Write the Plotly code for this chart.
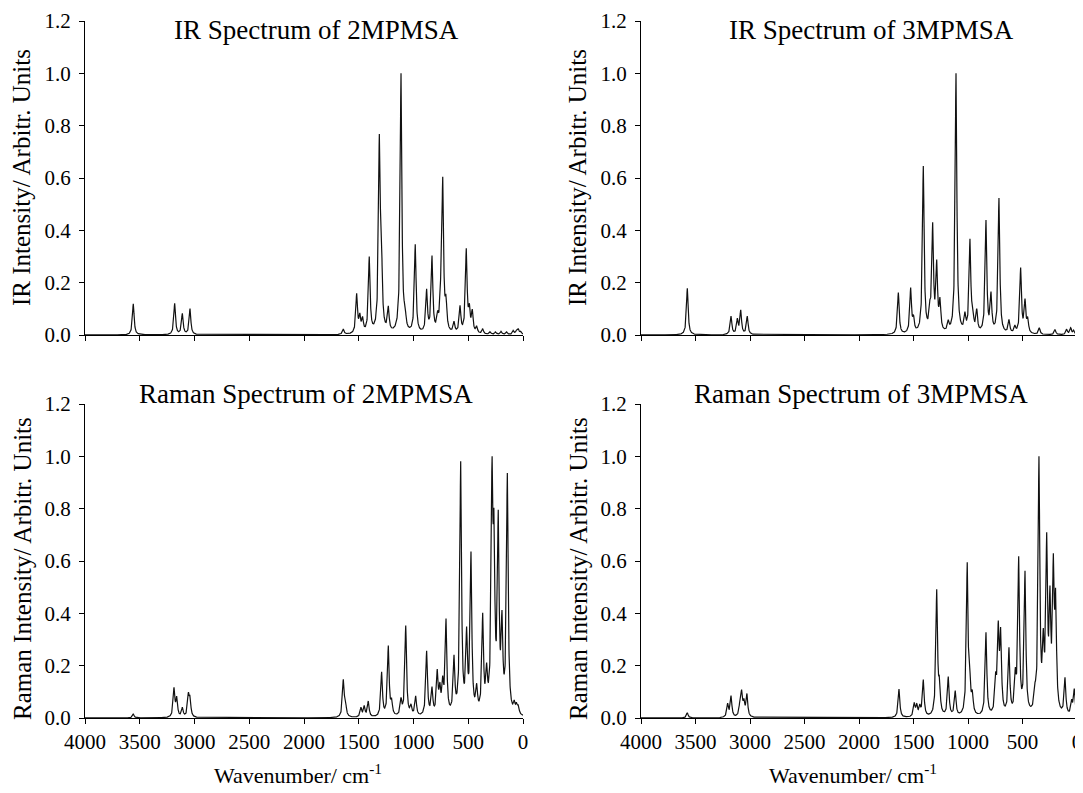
import numpy as np
import plotly.graph_objects as go

# ---------------- data: computed band positions (cm-1) and relative intensities ----------------
ir2_pos = [3559, 3181, 3111, 3041, 1641, 1519, 1490, 1465, 1404, 1312, 1294, 1230, 1114, 1078,
           984, 880, 831, 779, 750, 733, 703, 630, 575, 518, 490, 463, 423, 368, 300, 250, 200,
           150, 89, 60, 43, 20]
ir2_int = [0.12, 0.12, 0.08, 0.10, 0.02, 0.15, 0.06, 0.05, 0.29, 0.71, 0.29, 0.09, 1.0, 0.06,
           0.34, 0.16, 0.29, 0.05, 0.11, 0.57, 0.10, 0.04, 0.10, 0.32, 0.08, 0.08, 0.025, 0.02,
           0.01, 0.01, 0.012, 0.01, 0.015, 0.012, 0.02, 0.01]

ir3_pos = [3575, 3174, 3116, 3085, 3025, 1639, 1526, 1500, 1410, 1349, 1324, 1287, 1257, 1181,
           1110, 1028, 982, 957, 920, 835, 789, 716, 624, 570, 517, 477, 452, 346, 202, 95, 58, 30]
ir3_int = [0.18, 0.07, 0.055, 0.09, 0.07, 0.16, 0.17, 0.05, 0.64, 0.07, 0.40, 0.25, 0.11, 0.035,
           1.0, 0.06, 0.35, 0.07, 0.08, 0.43, 0.14, 0.52, 0.05, 0.025, 0.25, 0.12, 0.05, 0.025,
           0.02, 0.02, 0.025, 0.015]

ra2_pos = [3559, 3187, 3162, 3111, 3056, 3041, 1641, 1622, 1480, 1450, 1413, 1291, 1230, 1200,
           1114, 1071, 1023, 980, 880, 831, 783, 759, 733, 703, 630, 569, 515, 475, 423, 368,
           332, 283, 265, 226, 192, 143, 80, 60, 43]
ra2_int = [0.015, 0.11, 0.07, 0.035, 0.08, 0.065, 0.14, 0.05, 0.035, 0.04, 0.06, 0.17, 0.27, 0.05,
           0.06, 0.35, 0.035, 0.075, 0.25, 0.10, 0.16, 0.09, 0.11, 0.36, 0.21, 0.97, 0.29, 0.61,
           0.09, 0.37, 0.14, 0.86, 0.58, 0.72, 0.32, 0.92, 0.035, 0.03, 0.03]

ra3_pos = [3575, 3205, 3174, 3090, 3076, 3055, 3028, 1633, 1493, 1470, 1442, 1410, 1287, 1262,
           1181, 1117, 1007, 983, 960, 835, 746, 722, 700, 624, 566, 535, 477, 385, 349, 309,
           278, 248, 217, 196, 110, 49, 25]
ra3_int = [0.02, 0.05, 0.08, 0.06, 0.08, 0.05, 0.085, 0.11, 0.05, 0.04, 0.035, 0.14, 0.48, 0.10,
           0.15, 0.095, 0.58, 0.10, 0.07, 0.32, 0.12, 0.31, 0.29, 0.25, 0.13, 0.59, 0.54, 0.06,
           0.97, 0.23, 0.63, 0.39, 0.52, 0.39, 0.14, 0.05, 0.10]

titles = ["IR Spectrum of 2MPMSA", "IR Spectrum of 3MPMSA",
          "Raman Spectrum of 2MPMSA", "Raman Spectrum of 3MPMSA"]
ylabels = ["IR Intensity/ Arbitr. Units", "Raman Intensity/ Arbitr. Units"]
xlabel = "Wavenumber/ cm<sup>-1</sup>"
x_ticks = [4000, 3500, 3000, 2500, 2000, 1500, 1000, 500, 0]
y_ticks = [0.0, 0.2, 0.4, 0.6, 0.8, 1.0, 1.2]

# ---------------- spectrum construction (Lorentzian broadening of band list) ----------------
FWHM = 18.0
grid = np.arange(0, 4000.5, 1.0)


def spectrum(pos, inten):
    hw = FWHM / 2.0
    y = np.zeros_like(grid)
    for p, a in zip(pos, inten):
        y += a / (1.0 + ((grid - p) / hw) ** 2)
    return y / y.max()


spectra = [spectrum(ir2_pos, ir2_int), spectrum(ir3_pos, ir3_int),
           spectrum(ra2_pos, ra2_int), spectrum(ra3_pos, ra3_int)]

# the page body has an 8px default margin: the figure is sized/positioned to compensate
OFF = 8
W, H = 1083 - OFF, 793 - OFF
FONT = "Liberation Serif, Times New Roman, serif"


def px(x):
    return (x - OFF) / W


def py(y):
    return 1 - (y - OFF) / H


# panel boxes in screen pixels: (left, right, top, bottom)
boxes = [(85, 523, 21, 335), (641, 1077, 21, 335),
         (85, 523, 404, 718), (641, 1077, 404, 718)]

fig = go.Figure()
layout = dict(width=W, height=H, margin=dict(l=0, r=0, t=0, b=0),
              paper_bgcolor="white", plot_bgcolor="white", showlegend=False,
              font=dict(family=FONT, color="black"))

annotations = []
for i, (box, ys) in enumerate(zip(boxes, spectra)):
    l, r, t, b = box
    n = "" if i == 0 else str(i + 1)
    fig.add_trace(go.Scatter(x=grid, y=ys, mode="lines",
                             line=dict(color="#111111", width=1.2),
                             xaxis="x" + n, yaxis="y" + n, hoverinfo="skip"))
    bottom_row = i >= 2
    layout["xaxis" + n] = dict(
        domain=[px(l), px(r)], anchor="y" + n, range=[4000, 0],
        tickvals=x_ticks, ticktext=[str(v) for v in x_ticks],
        showticklabels=bottom_row, ticks="outside", ticklen=5, tickwidth=1,
        tickcolor="black", showline=True, linecolor="black", linewidth=1,
        showgrid=False, zeroline=False, automargin=False, ticklabeloverflow="allow",
        tickfont=dict(family=FONT, size=21, color="black"))
    layout["yaxis" + n] = dict(
        domain=[py(b), py(t)], anchor="x" + n, range=[0, 1.2],
        tickvals=y_ticks, ticktext=["%.1f" % v for v in y_ticks],
        ticks="outside", ticklen=5, tickwidth=1, tickcolor="black",
        showline=True, linecolor="black", linewidth=1,
        showgrid=False, zeroline=False, automargin=False, ticklabeloverflow="allow",
        ticklabelstandoff=4,
        tickfont=dict(family=FONT, size=21, color="black"))
    # panel title
    cx = (l + r) / 2 + (12 if i < 2 else 2)
    ty = 30 if i < 2 else 394
    annotations.append(dict(text=titles[i], x=px(cx), y=py(ty), xref="paper", yref="paper",
                            xanchor="center", yanchor="middle", showarrow=False,
                            font=dict(family=FONT, size=27, color="black")))
    # y-axis title
    ycen = (t + b) / 2 + (0 if i < 2 else 8)
    annotations.append(dict(text=ylabels[0 if i < 2 else 1], x=px(l - 63), y=py(ycen),
                            xref="paper", yref="paper", xanchor="center", yanchor="middle",
                            textangle=-90, showarrow=False,
                            font=dict(family=FONT, size=25, color="black")))
    if bottom_row:
        annotations.append(dict(text=xlabel, x=px((l + r) / 2 - 6), y=py(774),
                                xref="paper", yref="paper", xanchor="center", yanchor="middle",
                                showarrow=False, font=dict(family=FONT, size=22, color="black")))

layout["annotations"] = annotations
fig.update_layout(**layout)
fig.write_html("out.html")
